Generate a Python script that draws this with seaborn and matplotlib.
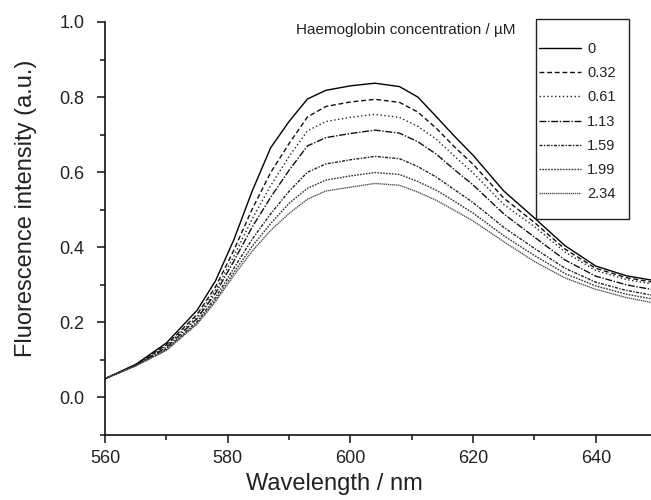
import numpy as np
import pandas as pd
import matplotlib
matplotlib.use("Agg")
import matplotlib.pyplot as plt
import seaborn as sns
from matplotlib.patches import Rectangle
from matplotlib.ticker import MultipleLocator, FormatStrFormatter

wavelength = [560, 565, 570, 575, 578, 581, 584, 587, 590, 593, 596, 600, 604,
              608, 611, 614, 617, 620, 625, 630, 635, 640, 645, 650]

conc_labels = ["0", "0.32", "0.61", "1.13", "1.59", "1.99", "2.34"]

c_000 = [0.050, 0.088, 0.145, 0.232, 0.310, 0.420, 0.550, 0.665, 0.735, 0.795, 0.818, 0.830, 0.837,
         0.828, 0.800, 0.748, 0.695, 0.645, 0.550, 0.478, 0.404, 0.350, 0.324, 0.310]
c_032 = [0.050, 0.087, 0.140, 0.221, 0.294, 0.392, 0.502, 0.599, 0.676, 0.747, 0.775, 0.787, 0.794,
         0.786, 0.760, 0.717, 0.667, 0.621, 0.531, 0.466, 0.395, 0.344, 0.319, 0.305]
c_061 = [0.050, 0.086, 0.137, 0.215, 0.285, 0.376, 0.476, 0.564, 0.642, 0.710, 0.735, 0.746, 0.754,
         0.746, 0.722, 0.688, 0.642, 0.598, 0.514, 0.455, 0.387, 0.338, 0.314, 0.300]
c_113 = [0.050, 0.086, 0.133, 0.210, 0.277, 0.363, 0.454, 0.533, 0.605, 0.670, 0.692, 0.703, 0.712,
         0.704, 0.681, 0.648, 0.606, 0.566, 0.489, 0.427, 0.366, 0.323, 0.300, 0.285]
c_159 = [0.050, 0.085, 0.129, 0.202, 0.266, 0.344, 0.422, 0.489, 0.549, 0.600, 0.622, 0.633, 0.642,
         0.636, 0.615, 0.587, 0.553, 0.519, 0.453, 0.397, 0.344, 0.307, 0.285, 0.270]
c_199 = [0.050, 0.084, 0.127, 0.198, 0.259, 0.333, 0.403, 0.463, 0.517, 0.557, 0.579, 0.590, 0.599,
         0.594, 0.575, 0.552, 0.522, 0.491, 0.431, 0.378, 0.330, 0.297, 0.275, 0.260]
c_234 = [0.050, 0.084, 0.125, 0.195, 0.255, 0.325, 0.390, 0.445, 0.490, 0.528, 0.550, 0.560, 0.570,
         0.565, 0.547, 0.525, 0.498, 0.470, 0.415, 0.362, 0.318, 0.288, 0.266, 0.250]

series = [c_000, c_032, c_061, c_113, c_159, c_199, c_234]

line_styles = ["-", (0, (3.5, 2.0)), (0, (1.0, 1.8)), (0, (5, 1.2, 1, 1.2)),
               (0, (2.2, 1.0, 1.0, 1.0)), (0, (1.2, 0.9)), (0, (1.0, 0.5))]
line_colors = ["#000000", "#111111", "#222222", "#111111", "#222222", "#333333", "#555555"]

sns.set_theme(style="ticks")
plt.rcParams["font.family"] = ["Liberation Sans", "DejaVu Sans"]

fig = plt.figure(figsize=(6.51, 5.00), dpi=100)
ax = fig.add_axes([105 / 651, (500 - 435) / 500, 546 / 651, 413 / 500])

for lab, vals, ls, col in zip(conc_labels, series, line_styles, line_colors):
    df = pd.DataFrame({"Wavelength": wavelength, "Intensity": vals})
    sns.lineplot(data=df, x="Wavelength", y="Intensity", ax=ax, color=col,
                 linestyle=ls, linewidth=1.0, label=lab, legend=False)

ax.set_xlim(560, 649)
ax.set_ylim(-0.1, 1.0)
ax.xaxis.set_major_locator(MultipleLocator(20))
ax.xaxis.set_minor_locator(MultipleLocator(10))
ax.yaxis.set_major_locator(MultipleLocator(0.2))
ax.yaxis.set_minor_locator(MultipleLocator(0.1))
ax.yaxis.set_major_formatter(FormatStrFormatter("%.1f"))

for s in ["top", "right"]:
    ax.spines[s].set_visible(False)
for s in ["left", "bottom"]:
    ax.spines[s].set_linewidth(1.2)
    ax.spines[s].set_color("#111111")

ax.tick_params(axis="both", which="major", direction="out", length=6, width=1.1,
               labelsize=13, colors="#111111", labelcolor="#222222")
ax.tick_params(axis="x", which="major", pad=5)
ax.tick_params(axis="y", which="major", pad=9)
ax.tick_params(axis="both", which="minor", direction="out", length=3.6, width=1.1,
               colors="#111111")

ax.set_xlabel("Wavelength / nm", fontsize=17, color="#222222")
ax.set_ylabel("Fluorescence intensity (a.u.)", fontsize=17, color="#222222")
ax.xaxis.set_label_coords(0.421, -0.093)
ax.yaxis.set_label_coords(-0.125, 0.55)

handles, labels = ax.get_legend_handles_labels()
leg = ax.legend(handles, labels, loc="upper left",
                bbox_to_anchor=(539 / 651, (500 - 42) / 500),
                bbox_transform=fig.transFigure, frameon=False,
                fontsize=10.5, handlelength=2.9, handletextpad=0.4,
                labelspacing=0.7, borderpad=0, borderaxespad=0)
for t in leg.get_texts():
    t.set_color("#222222")

fig.patches.append(Rectangle((536 / 651, (500 - 219) / 500), 93 / 651, 200 / 500,
                             transform=fig.transFigure, fill=False,
                             edgecolor="#222222", linewidth=1.0))
fig.text(296 / 651, (500 - 30) / 500, "Haemoglobin concentration / \u00b5M",
         fontsize=11, color="#222222", ha="left", va="center")

fig.savefig("out.png", dpi=100)
